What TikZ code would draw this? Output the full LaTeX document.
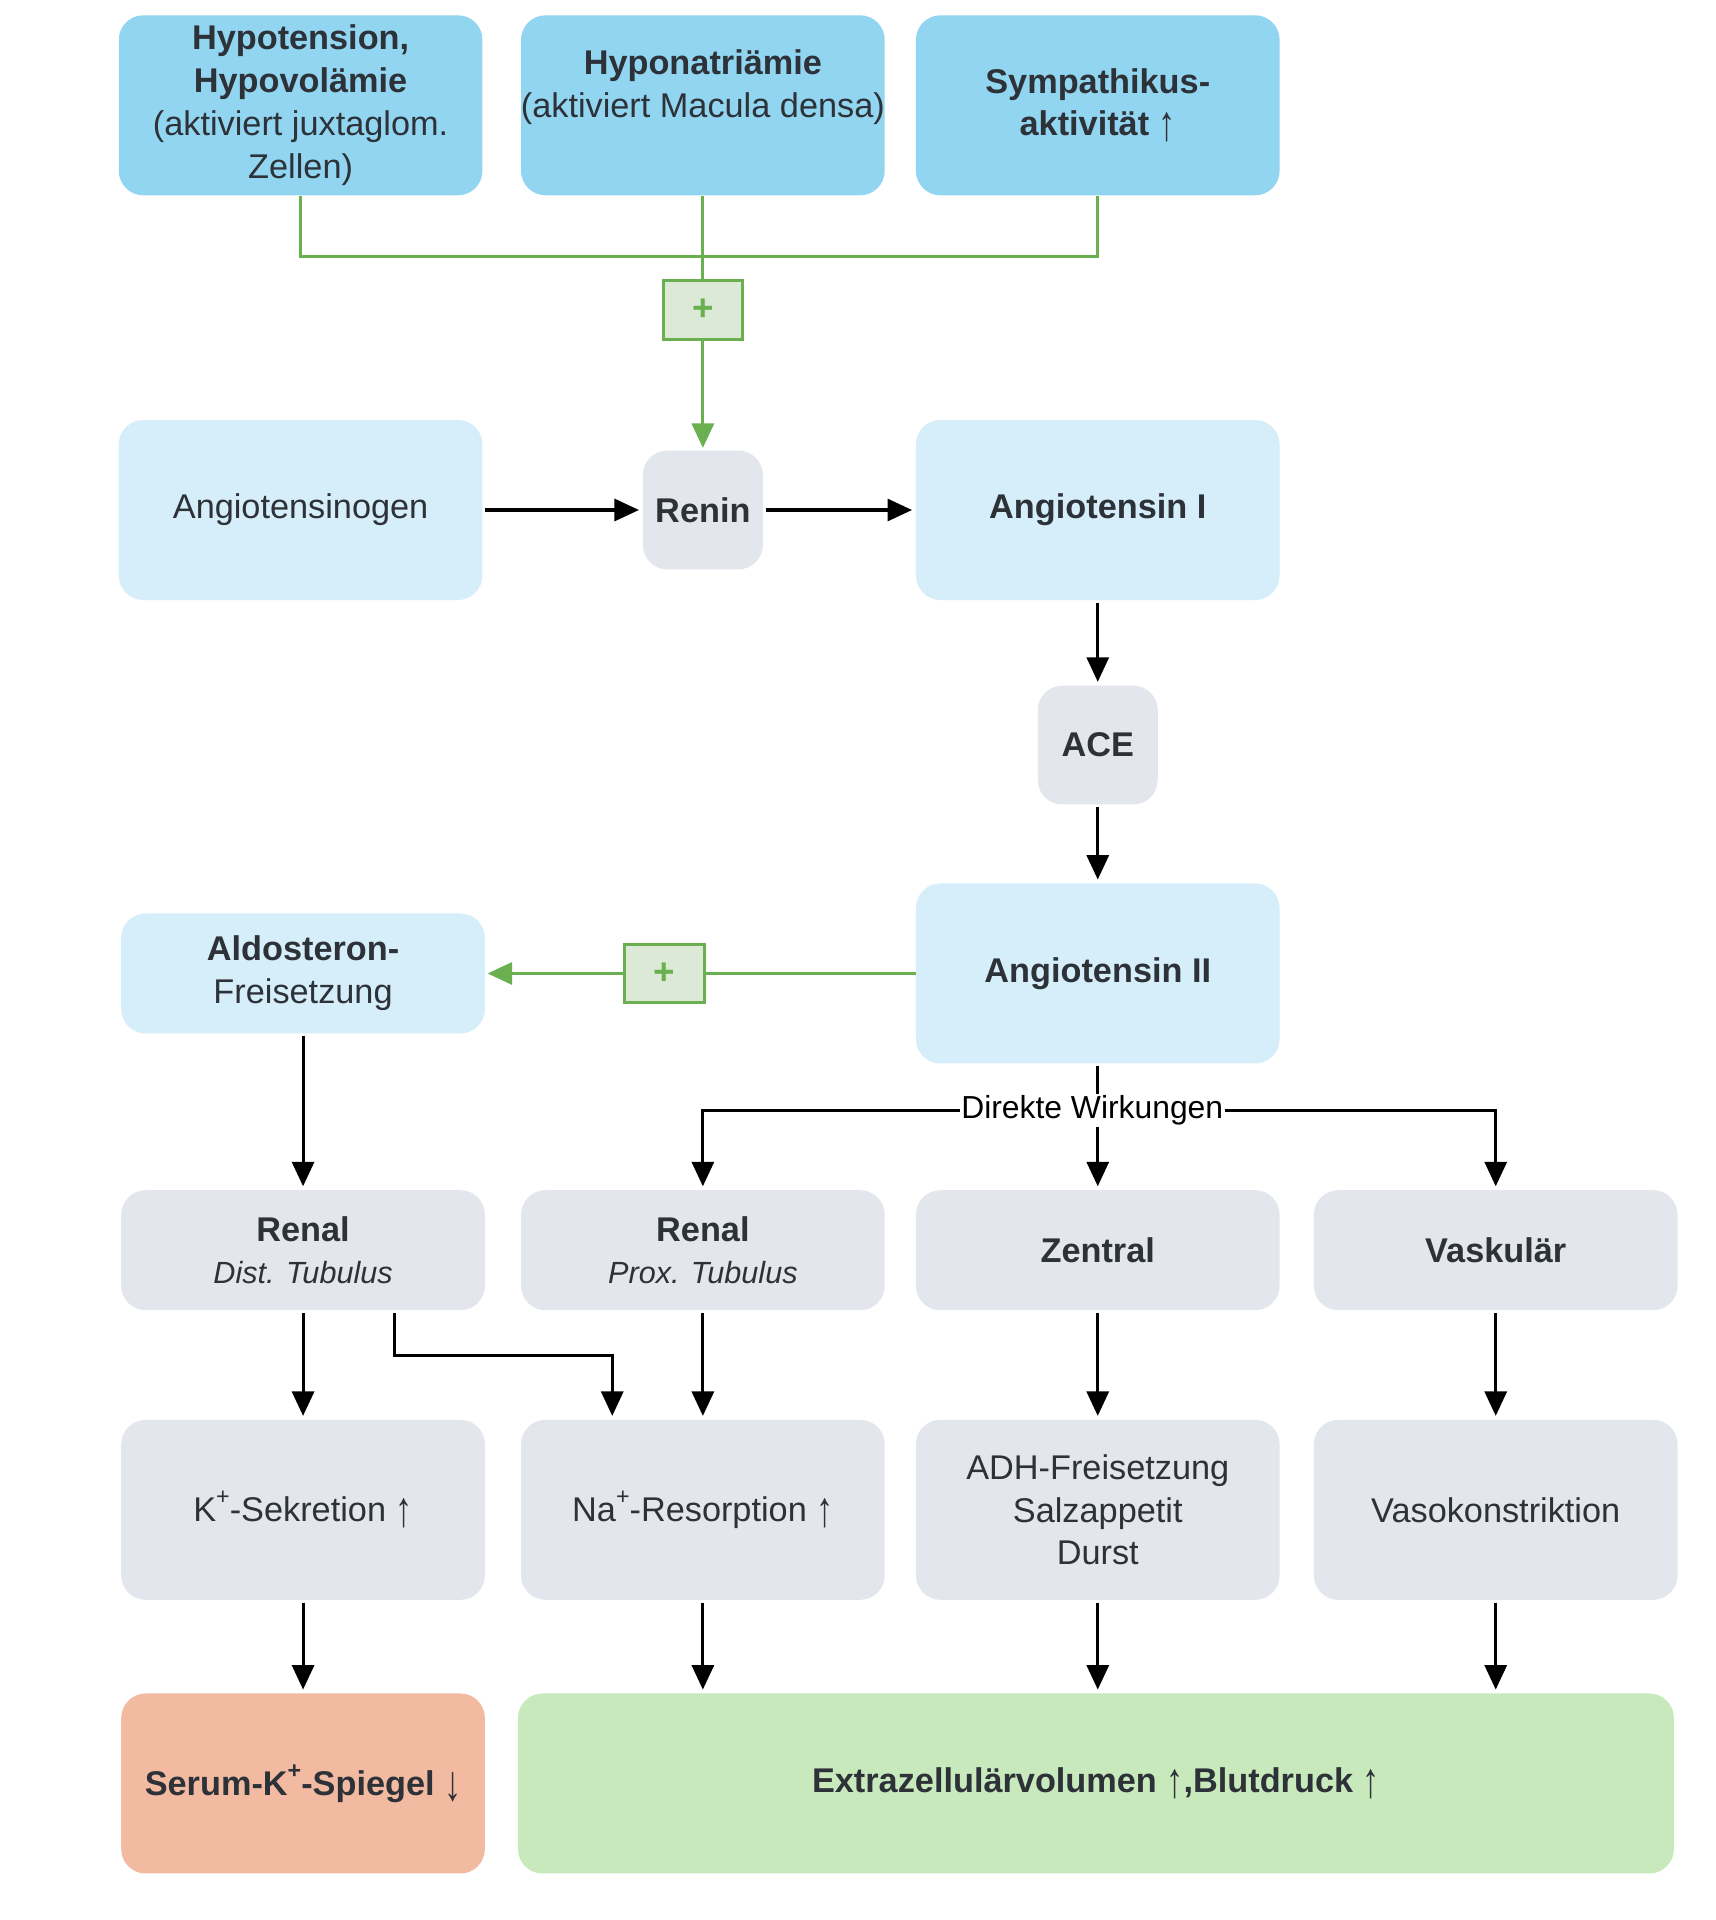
\documentclass[tikz,border=0pt]{standalone}
\usepackage{fontspec}
\setmainfont{Liberation Sans}
\usetikzlibrary{arrows.meta}

\definecolor{topblue}{RGB}{146,213,241}
\definecolor{paleblue}{RGB}{214,238,249}
\definecolor{grayfill}{RGB}{227,230,236}
\definecolor{salmon}{RGB}{242,186,160}
\definecolor{resgreen}{RGB}{200,233,188}
\definecolor{linegreen}{RGB}{106,176,80}
\definecolor{plusfill}{RGB}{220,233,214}
\definecolor{txt}{RGB}{45,49,56}

% tall thin arrows and raised charge signs
\newcommand\uparr{\raisebox{-4pt}{\scalebox{1}[1.45]{↑}}}
\newcommand\downarr{\raisebox{-4pt}{\scalebox{1}[1.45]{↓}}}
\newcommand\charge{\raisebox{0.5em}{\fontsize{19}{19}\selectfont +}}

\tikzset{
  box/.style={rounded corners=20pt, inner sep=0pt, align=center, text=txt,
    minimum width=297pt, font=\fontsize{28}{35}\selectfont},
  tall/.style={box, minimum height=147pt},
  short/.style={box, minimum height=98pt},
  enzyme/.style={box, minimum width=98pt, minimum height=97pt, fill=grayfill},
  arr/.style={line width=2.5pt, -{Triangle[length=20pt,width=18pt]},
    shorten <=2pt, shorten >=3pt},
  gline/.style={line width=2.5pt, draw=linegreen},
  garr/.style={gline, -{Triangle[length=20pt,width=18pt]}, shorten >=2pt},
  plusbox/.style={draw=linegreen, fill=plusfill, line width=2.5pt,
    minimum width=65pt, minimum height=48pt, inner sep=0pt, text=linegreen,
    font=\bfseries\fontsize{30}{30}\selectfont}
}

\begin{document}
\begin{tikzpicture}[x=1pt, y=-1pt]
\useasboundingbox[fill=white] (0,0) rectangle (1401,1568);

% triggers
\node[tall, fill=topblue] (hypot) at (245.5,86)
  {\textbf{Hypotension,}\\\textbf{Hypovolämie}\\(aktiviert juxtaglom.\\Zellen)};
\node[tall, fill=topblue] (hypona) at (574,86) {};
\node[align=center, text=txt, font=\fontsize{28}{35}\selectfont] (hyponatxt) at (574,71)
  {\textbf{Hyponatriämie}\\(aktiviert Macula densa)};
\node[tall, fill=topblue] (symp) at (896.5,86)
  {\textbf{Sympathikus-}\\\textbf{aktivität \uparr}};

% cascade
\node[tall, fill=paleblue] (agen) at (245.5,416.5) {Angiotensinogen};
\node[enzyme] (renin) at (574,416.5) {\textbf{Renin}};
\node[tall, fill=paleblue] (ang1) at (896.5,416.5) {\textbf{Angiotensin I}};
\node[enzyme] (ace) at (896.5,608.5) {\textbf{ACE}};
\node[tall, fill=paleblue] (ang2) at (896.5,795) {\textbf{Angiotensin II}};
\node[short, fill=paleblue] (aldo) at (247.5,795)
  {\textbf{Aldosteron-}\\Freisetzung};

% sites of action
\node[short, fill=grayfill] (dist) at (247.5,1021)
  {\textbf{Renal}\\{\fontsize{25}{35}\selectfont\itshape Dist. Tubulus}};
\node[short, fill=grayfill] (prox) at (574,1021)
  {\textbf{Renal}\\{\fontsize{25}{35}\selectfont\itshape Prox. Tubulus}};
\node[short, fill=grayfill] (zentral) at (896.5,1021) {\textbf{Zentral}};
\node[short, fill=grayfill] (vask) at (1221.5,1021) {\textbf{Vaskulär}};

% effects
\node[tall, fill=grayfill] (ksek) at (247.5,1233)
  {\raisebox{-5pt}{K\charge-Sekretion \uparr}};
\node[tall, fill=grayfill] (nares) at (574,1233)
  {\raisebox{-5pt}{Na\charge-Resorption \uparr}};
\node[tall, fill=grayfill] (adh) at (896.5,1233) {ADH-Freisetzung\\Salzappetit\\Durst};
\node[tall, fill=grayfill] (vaso) at (1221.5,1233) {Vasokonstriktion};

% outcomes
\node[tall, fill=salmon] (serum) at (247.5,1456.5)
  {\raisebox{-6pt}{\textbf{Serum-K\charge-Spiegel \downarr}}};
\node[tall, fill=resgreen, minimum width=944pt] (extra) at (895,1456.5)
  {\textbf{Extrazellulärvolumen \uparr,Blutdruck \uparr}};

% stimulation of renin release
\node[plusbox] (plus1) at (574,253) {+};
\draw[gline] (hypot.south) -- ++(0,50) -| (symp.south);
\draw[gline] (hypona.south) -- (plus1.north);
\draw[garr] (plus1.south) -- (renin.north);

% main cascade
\draw[arr] (agen.east) -- (renin.west);
\draw[arr] (renin.east) -- (ang1.west);
\draw[arr] (ang1.south) -- (ace.north);
\draw[arr] (ace.south) -- (ang2.north);

% aldosterone
\node[plusbox] (plus2) at (542.5,795) {+};
\draw[gline] (ang2.west) -- (plus2.east);
\draw[garr] (plus2.west) -- (aldo.east);
\draw[arr] (aldo.south) -- (dist.north);

% direct effects
\node[fill=white, inner sep=1pt, text=black, font=\fontsize{26}{30}\selectfont]
  (dw) at (892,907) {Direkte Wirkungen};
\draw[line width=2.5pt, shorten <=2pt] (ang2.south) -- (ang2.south |- dw.north);
\draw[arr, shorten <=0pt] (zentral.north |- dw.south) -- (zentral.north);
\draw[arr, shorten <=0pt] (dw.west) -| (prox.north);
\draw[arr, shorten <=0pt] (dw.east) -| (vask.north);

% sites to effects
\draw[arr] (dist.south) -- (ksek.north);
\draw[arr] ([xshift=74.5pt]dist.south) -- ++(0,37) -| ([xshift=-74pt]nares.north);
\draw[arr] (prox.south) -- (nares.north);
\draw[arr] (zentral.south) -- (adh.north);
\draw[arr] (vask.south) -- (vaso.north);

% effects to outcomes
\draw[arr] (ksek.south) -- (serum.north);
\draw[arr] (nares.south) -- (nares.south |- extra.north);
\draw[arr] (adh.south) -- (adh.south |- extra.north);
\draw[arr] (vaso.south) -- (vaso.south |- extra.north);
\end{tikzpicture}
\end{document}
